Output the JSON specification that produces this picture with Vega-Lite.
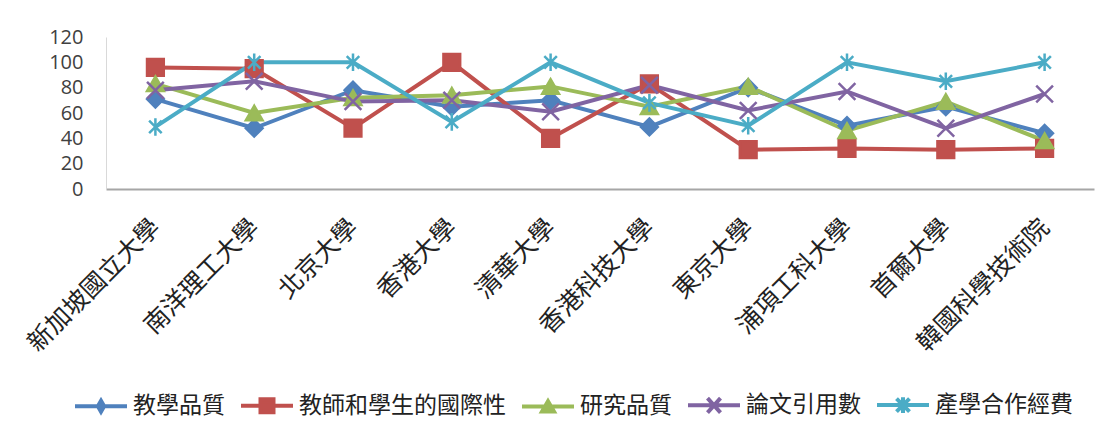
{
  "$schema": "https://vega.github.io/schema/vega-lite/v6.json",
  "width": 988,
  "height": 152,
  "autosize": {"type": "none"},
  "padding": {"left": 106, "top": 37, "right": 23, "bottom": 254},
  "background": "white",
  "config": {"view": {"stroke": null}, "axis": {"grid": false}},
  "data": {
    "values": [
      {"uni": "新加坡國立大學", "series": "教學品質", "value": 71},
      {"uni": "新加坡國立大學", "series": "教師和學生的國際性", "value": 96},
      {"uni": "新加坡國立大學", "series": "研究品質", "value": 83},
      {"uni": "新加坡國立大學", "series": "論文引用數", "value": 78},
      {"uni": "新加坡國立大學", "series": "產學合作經費", "value": 49},
      {"uni": "南洋理工大學", "series": "教學品質", "value": 48},
      {"uni": "南洋理工大學", "series": "教師和學生的國際性", "value": 95},
      {"uni": "南洋理工大學", "series": "研究品質", "value": 60},
      {"uni": "南洋理工大學", "series": "論文引用數", "value": 85},
      {"uni": "南洋理工大學", "series": "產學合作經費", "value": 100},
      {"uni": "北京大學", "series": "教學品質", "value": 78},
      {"uni": "北京大學", "series": "教師和學生的國際性", "value": 48},
      {"uni": "北京大學", "series": "研究品質", "value": 72},
      {"uni": "北京大學", "series": "論文引用數", "value": 69},
      {"uni": "北京大學", "series": "產學合作經費", "value": 100},
      {"uni": "香港大學", "series": "教學品質", "value": 65},
      {"uni": "香港大學", "series": "教師和學生的國際性", "value": 100},
      {"uni": "香港大學", "series": "研究品質", "value": 74},
      {"uni": "香港大學", "series": "論文引用數", "value": 70},
      {"uni": "香港大學", "series": "產學合作經費", "value": 53},
      {"uni": "清華大學", "series": "教學品質", "value": 70},
      {"uni": "清華大學", "series": "教師和學生的國際性", "value": 40},
      {"uni": "清華大學", "series": "研究品質", "value": 81},
      {"uni": "清華大學", "series": "論文引用數", "value": 61},
      {"uni": "清華大學", "series": "產學合作經費", "value": 100},
      {"uni": "香港科技大學", "series": "教學品質", "value": 49},
      {"uni": "香港科技大學", "series": "教師和學生的國際性", "value": 83},
      {"uni": "香港科技大學", "series": "研究品質", "value": 65},
      {"uni": "香港科技大學", "series": "論文引用數", "value": 82},
      {"uni": "香港科技大學", "series": "產學合作經費", "value": 68},
      {"uni": "東京大學", "series": "教學品質", "value": 80},
      {"uni": "東京大學", "series": "教師和學生的國際性", "value": 31},
      {"uni": "東京大學", "series": "研究品質", "value": 81},
      {"uni": "東京大學", "series": "論文引用數", "value": 62},
      {"uni": "東京大學", "series": "產學合作經費", "value": 50},
      {"uni": "浦項工科大學", "series": "教學品質", "value": 50},
      {"uni": "浦項工科大學", "series": "教師和學生的國際性", "value": 32},
      {"uni": "浦項工科大學", "series": "研究品質", "value": 46},
      {"uni": "浦項工科大學", "series": "論文引用數", "value": 77},
      {"uni": "浦項工科大學", "series": "產學合作經費", "value": 100},
      {"uni": "首爾大學", "series": "教學品質", "value": 65},
      {"uni": "首爾大學", "series": "教師和學生的國際性", "value": 31},
      {"uni": "首爾大學", "series": "研究品質", "value": 69},
      {"uni": "首爾大學", "series": "論文引用數", "value": 48},
      {"uni": "首爾大學", "series": "產學合作經費", "value": 85},
      {"uni": "韓國科學技術院", "series": "教學品質", "value": 44},
      {"uni": "韓國科學技術院", "series": "教師和學生的國際性", "value": 32},
      {"uni": "韓國科學技術院", "series": "研究品質", "value": 38},
      {"uni": "韓國科學技術院", "series": "論文引用數", "value": 75},
      {"uni": "韓國科學技術院", "series": "產學合作經費", "value": 100}
    ]
  },
  "encoding": {
    "x": {
      "field": "uni",
      "type": "nominal",
      "sort": ["新加坡國立大學", "南洋理工大學", "北京大學", "香港大學", "清華大學", "香港科技大學", "東京大學", "浦項工科大學", "首爾大學", "韓國科學技術院"],
      "scale": {"padding": 0.5},
      "title": null,
      "axis": {
        "labelAngle": -45,
        "labelAlign": "right",
        "labelBaseline": "middle",
        "labelPadding": 34,
        "ticks": false,
        "tickSize": 0,
        "domainColor": "#A6A6A6",
        "domainWidth": 2,
        "labelFont": "Noto Sans CJK TC",
        "labelFontSize": 25,
        "labelColor": "#222222",
        "labelLimit": 400,
        "labelOverlap": false
      }
    },
    "y": {
      "field": "value",
      "type": "quantitative",
      "scale": {"domain": [0, 120], "nice": false},
      "title": null,
      "axis": {
        "values": [0, 20, 40, 60, 80, 100, 120],
        "ticks": false,
        "tickSize": 0,
        "domainColor": "#D9D9D9",
        "domainWidth": 1,
        "labelPadding": 23,
        "labelFont": "Open Sans",
        "labelFontSize": 20,
        "labelColor": "#404040",
        "labelOverlap": false
      }
    }
  },
  "layer": [
    {
      "mark": {"type": "line", "strokeWidth": 4},
      "encoding": {
        "stroke": {
          "field": "series",
          "type": "nominal",
          "scale": {"domain": ["教學品質", "教師和學生的國際性", "研究品質", "論文引用數", "產學合作經費"], "range": ["#4F81BD", "#C0504D", "#9BBB59", "#8064A2", "#4BACC6"]},
          "legend": null
        }
      }
    },
    {
      "mark": {"type": "point", "filled": true, "opacity": 1, "size": 280, "strokeWidth": 2.5},
      "encoding": {
        "fill": {
          "field": "series",
          "type": "nominal",
          "scale": {"domain": ["教學品質", "教師和學生的國際性", "研究品質", "論文引用數", "產學合作經費"], "range": ["#4F81BD", "#C0504D", "#9BBB59", "#8064A2", "#4BACC6"]},
          "legend": null
        },
        "stroke": {
          "field": "series",
          "type": "nominal",
          "scale": {"domain": ["教學品質", "教師和學生的國際性", "研究品質", "論文引用數", "產學合作經費"], "range": ["#4F81BD", "#C0504D", "#9BBB59", "#8064A2", "#4BACC6"]},
          "legend": null
        },
        "shape": {
          "field": "series",
          "type": "nominal",
          "scale": {"domain": ["教學品質", "教師和學生的國際性", "研究品質", "論文引用數", "產學合作經費"], "range": ["diamond", "square", "triangle-up", "M-1,-1L1,1M-1,1L1,-1", "M-0.75,-0.75L0.75,0.75M-0.75,0.75L0.75,-0.75M0,-1.05L0,1.05"]},
          "legend": null
        }
      }
    },
    {
      "mark": {"type": "point", "filled": true, "opacity": 0},
      "encoding": {
        "fill": {
          "field": "series",
          "type": "nominal",
          "scale": {"domain": ["教學品質", "教師和學生的國際性", "研究品質", "論文引用數", "產學合作經費"], "range": ["#4F81BD", "#C0504D", "#9BBB59", "#8064A2", "#4BACC6"]},
          "legend": {"orient": "none", "legendX": -33, "legendY": 340, "direction": "horizontal", "title": null, "symbolSize": 2704, "symbolStrokeWidth": 4, "symbolOpacity": 1, "labelFont": "Noto Sans CJK TC", "labelFontSize": 23, "labelColor": "#222222", "labelOffset": 4, "columnPadding": 8, "labelLimit": 400, "padding": 0}
        },
        "stroke": {
          "field": "series",
          "type": "nominal",
          "scale": {"domain": ["教學品質", "教師和學生的國際性", "研究品質", "論文引用數", "產學合作經費"], "range": ["#4F81BD", "#C0504D", "#9BBB59", "#8064A2", "#4BACC6"]},
          "legend": {"orient": "none", "legendX": -33, "legendY": 340, "direction": "horizontal", "title": null, "symbolSize": 2704, "symbolStrokeWidth": 4, "symbolOpacity": 1, "labelFont": "Noto Sans CJK TC", "labelFontSize": 23, "labelColor": "#222222", "labelOffset": 4, "columnPadding": 8, "labelLimit": 400, "padding": 0}
        },
        "shape": {
          "field": "series",
          "type": "nominal",
          "scale": {"domain": ["教學品質", "教師和學生的國際性", "研究品質", "論文引用數", "產學合作經費"], "range": ["M-1,0H1M0,-0.21L0.12,0L0,0.21L-0.12,0Z", "M-1,0H1M-0.25,-0.25H0.25V0.25H-0.25Z", "M-1,0H1M0,-0.2L0.23,0.2H-0.23Z", "M-1,0H1M-0.25,-0.28L0.25,0.28M-0.25,0.28L0.25,-0.28", "M-1,0H1M-0.25,-0.25L0.25,0.25M-0.25,0.25L0.25,-0.25M0,-0.3V0.3"]},
          "legend": {"orient": "none", "legendX": -33, "legendY": 340, "direction": "horizontal", "title": null, "symbolSize": 2704, "symbolStrokeWidth": 4, "symbolOpacity": 1, "labelFont": "Noto Sans CJK TC", "labelFontSize": 23, "labelColor": "#222222", "labelOffset": 4, "columnPadding": 8, "labelLimit": 400, "padding": 0}
        }
      }
    }
  ],
  "resolve": {"scale": {"shape": "independent", "fill": "independent", "stroke": "independent"}}
}
